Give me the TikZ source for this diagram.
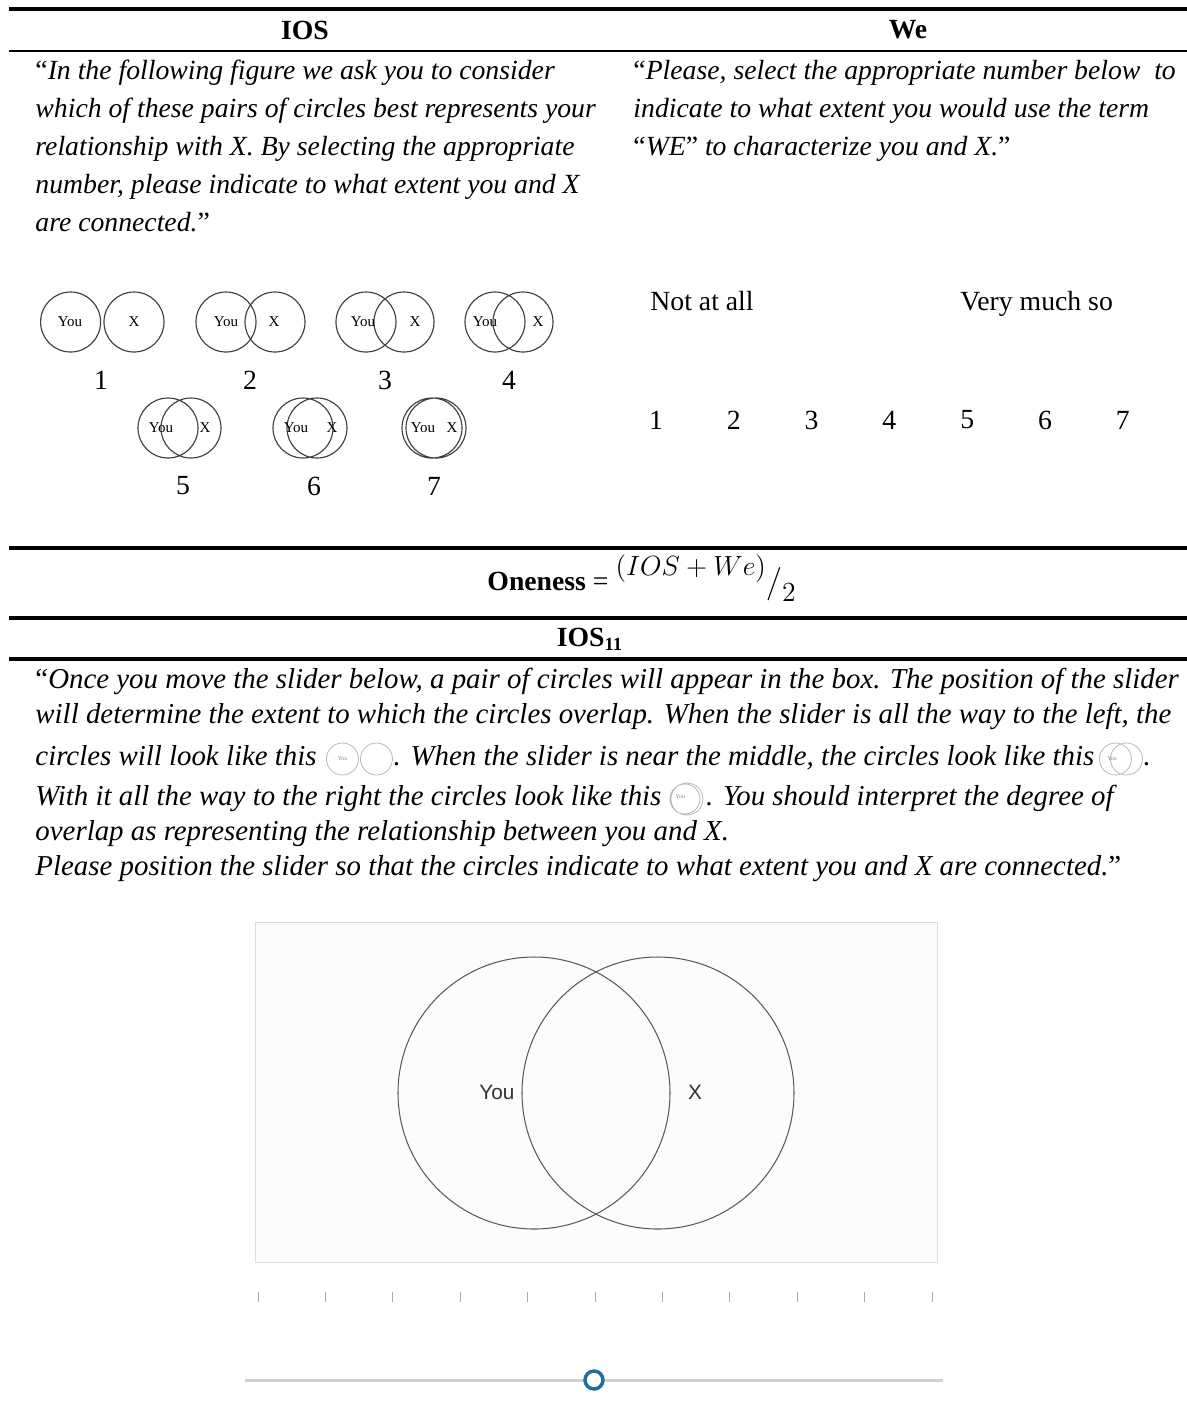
\documentclass[tikz,border=0pt,12pt]{standalone}
\usepackage{fontspec}
\setmainfont{Liberation Serif}
\newfontfamily\helv{Liberation Sans}
\usetikzlibrary{positioning}

\definecolor{boxgray}{HTML}{DDDDDD}
\definecolor{tickgray}{HTML}{AAAAAA}
\definecolor{railgray}{HTML}{D0D0D0}
\definecolor{knobblue}{HTML}{1F6E9C}
\definecolor{minigray}{HTML}{B8B8B8}

\tikzset{
  rulethick/.style={line width=1.5pt},
  rulethin/.style={line width=1pt},
  headtxt/.style={font=\bfseries, inner sep=0pt},
  quote/.style={font=\itshape, inner sep=0pt, anchor=base west},
  quotebig/.style={font=\itshape\fontsize{12.5}{14}\selectfont, inner sep=0pt, anchor=base west},
  plain/.style={inner sep=0pt, anchor=base west},
  ioscirc/.style={line width=0.5pt, black!75},
  ioslbl/.style={font=\fontsize{6.5}{7}\selectfont, inner sep=0pt},
  mini/.style={line width=0.35pt, minigray},
  minilbl/.style={font=\fontsize{2.5}{3}\selectfont, text=gray, inner sep=0pt},
  bigcirc/.style={line width=0.45pt, black!65},
  biglbl/.style={font=\helv\fontsize{9}{10}\selectfont, text=black!80, inner sep=0pt},
}

\begin{document}
\begin{tikzpicture}[x=0.433pt,y=-0.433pt]
\useasboundingbox (0,0) rectangle (1187,1409);

% table rules
\draw[rulethick] (9,9) -- (1187,9);
\draw[rulethin] (9,51) -- (1187,51);
\draw[rulethick] (9,548) -- (1187,548);
\draw[rulethick] (9,618) -- (1187,618);
\draw[rulethick] (9,659) -- (1187,659);

% headers
\node[headtxt] (hios) at (305,30) {IOS};
\node[headtxt] (hwe) at (908,30) {We};

% IOS question
\node[quote] (q1) at (35,79) {{\upshape “}In the following figure we ask you to consider};
\node[quote] (q2) at (35,117) {which of these pairs of circles best represents your};
\node[quote] (q3) at (35,155) {relationship with X. By selecting the appropriate};
\node[quote] (q4) at (35,193) {number, please indicate to what extent you and X};
\node[quote] (q5) at (35,231) {are connected.{\upshape ”}};

% We question
\node[quote] (w1) at (633,79) {{\upshape “}Please, select the appropriate number below \ to};
\node[quote] (w2) at (633,117) {indicate to what extent you would use the term};
\node[quote] (w3) at (633,155) {{\upshape “}WE{\upshape ”} to characterize you and X.{\upshape ”}};

% pairs of circles, row 1 and row 2
\foreach \n/\xa/\xb/\lx/\rx/\cy/\nx/\ny in {
    1/70.6/134/70/134/322/101/380,
    2/226/275/226/274/322/250/380,
    3/366/404/363/415/322/385/380,
    4/495/523/485/538/322/509/380,
    5/168/191/161/205/428/183/486,
    6/303/317/296/332/428/314/486,
    7/432/436/423/452/428/434/486}
{
  \draw[ioscirc] (\xa,\cy) circle (30) (\xb,\cy) circle (30);
  \node[ioslbl] (you\n) at (\lx,\cy) {You};
  \node[ioslbl] (x\n) at (\rx,\cy) {X};
  \node[inner sep=0pt] (num\n) at (\nx,\ny) {\n};
}

% scale for We
\node[plain] (notatall) at (650,310) {Not at all};
\node[plain] (verymuch) at (960,310) {Very much so};
\foreach \i in {1,...,7}
  \node[inner sep=0pt] (we\i) at ({656+77.8*(\i-1)},420) {\i};

% Oneness
\node[plain] (oneness) at (487,590) {\textbf{Oneness} =
  \raisebox{6.5pt}{$(IOS+We)$}\raisebox{-1pt}{\large$/$}\raisebox{-5pt}{$2$}};

% IOS11
\node[headtxt] (hios11) at (590,639) {IOS\textsubscript{11}};

\node[quotebig] (l1) at (35,688) {{\upshape “}Once you move the slider below, a pair of circles will appear in the box. The position of the slider};
\node[quotebig] (l2) at (35,723) {will determine the extent to which the circles overlap. When the slider is all the way to the left, the};
\node[quotebig] (l3a) at (35,765) {circles will look like this};
\node[quotebig, base right=33pt of l3a] (l3b) {. When the slider is near the middle, the circles look like this};
\node[quotebig, base right=21pt of l3b] (l3c) {.};
\node[quotebig] (l4a) at (35,805) {With it all the way to the right the circles look like this};
\node[quotebig, base right=19pt of l4a] (l4b) {. You should interpret the degree of};
\node[quotebig] (l5) at (35,840) {overlap as representing the relationship between you and X.};
\node[quotebig] (l6) at (35,875) {Please position the slider so that the circles indicate to what extent you and X are connected.{\upshape ”}};

% small inline circles
\coordinate (pa) at ([xshift=11pt,yshift=2.6pt]l3a.base east);
\draw[mini] (pa) circle (16) ++(34,0) circle (16);
\node[minilbl] (youa) at (pa) {You};
\coordinate (pb) at ([xshift=9pt,yshift=2.6pt]l3b.base east);
\draw[mini] (pb) circle (16) ++(11,0) circle (16);
\node[minilbl] (youb) at ([xshift=-1.5pt]pb) {You};
\coordinate (pc) at ([xshift=10pt,yshift=2.6pt]l4a.base east);
\draw[mini] (pc) circle (15) ++(2,0) circle (16);
\node[minilbl] (youc) at ([xshift=-2pt,yshift=1pt]pc) {You};

% slider picture
\draw[draw=boxgray, fill=black!1] (255,922) rectangle (937,1262);
\draw[bigcirc] (534,1093) circle (136) (658,1093) circle (136);
\node[biglbl] (bigyou) at (497,1092) {You};
\node[biglbl] (bigx) at (695,1092) {X};
\foreach \i in {0,...,10}
  \draw[tickgray, line width=0.4pt] ({258+67.4*\i},1292) -- ++(0,10);
\draw[railgray, line width=1.3pt] (245,1380) -- (943,1380);
\draw[knobblue, line width=1.5pt, fill=white] (594,1380) circle (9);

\end{tikzpicture}
\end{document}
